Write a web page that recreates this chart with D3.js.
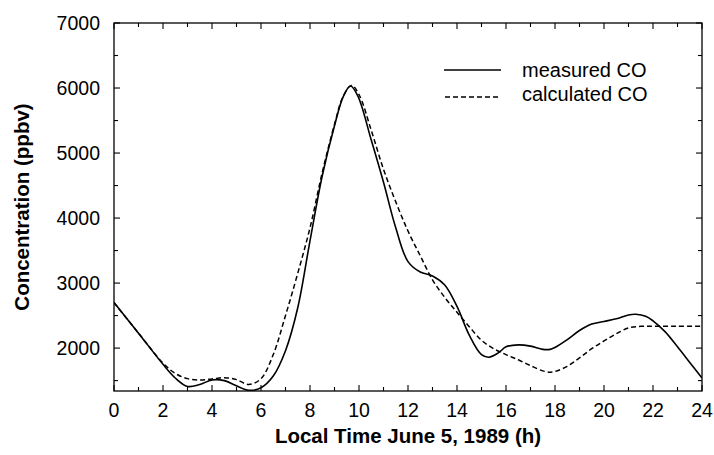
<!DOCTYPE html>
<html><head><meta charset="utf-8">
<script src="https://cdn.jsdelivr.net/npm/d3@7"></script>
<style>
body{margin:0;background:#fff;}
svg text{font-family:"Liberation Sans",Arial,Helvetica,sans-serif;fill:#000;}
</style></head>
<body><svg id="c" width="714" height="455"></svg>
<script>
const hours = [0,1,2,2.5,3,3.5,4,4.5,5,5.5,6,6.5,7,7.5,8,8.5,9,9.35,9.65,9.95,10.5,11,11.5,12,12.5,13,13.5,14,14.5,15,15.3,15.7,16,16.5,17,17.5,17.8,18,18.5,19,19.5,20,20.5,21,21.3,21.7,22,22.5,23,23.5,24];
const measuredCO = [2700,2230,1750,1540,1410,1440,1510,1500,1420,1350,1390,1570,1960,2620,3650,4650,5420,5860,6030,5880,5200,4550,3850,3330,3170,3110,2970,2640,2200,1900,1860,1930,2020,2050,2030,1980,1980,2010,2130,2270,2370,2410,2450,2510,2520,2490,2420,2250,2020,1780,1540];
const calcHours = [0,1,2,2.5,3,3.5,4,4.5,5,5.5,6,6.5,7,7.5,8,8.5,9,9.35,9.7,10,10.5,11,11.5,12,12.5,13,13.5,14,14.5,15,15.5,16,16.5,17,17.5,17.8,18,18.5,19,19.5,20,20.5,21,21.5,22,23,24];
const calculatedCO = [2700,2230,1770,1610,1530,1510,1525,1545,1515,1440,1530,1900,2500,3150,3850,4700,5440,5870,6040,5900,5350,4750,4250,3800,3420,3050,2780,2550,2330,2120,1990,1900,1820,1730,1650,1630,1640,1720,1850,1990,2110,2220,2310,2335,2335,2335,2335];
const xTicks = [0,2,4,6,8,10,12,14,16,18,20,22,24];
const yTicks = [2000,3000,4000,5000,6000,7000];
const legendLabels = ["measured CO","calculated CO"];

const svg = d3.select("#c");
const L=114, R=702, T=23, B=391;
const x = d3.scaleLinear().domain([0,24]).range([L,R]);
const y = d3.scaleLinear().domain([1340,7000]).range([B,T]);

const g = svg.append("g");
g.append("rect").attr("x",L).attr("y",T).attr("width",R-L).attr("height",B-T)
 .attr("fill","none").attr("stroke","#000").attr("stroke-width",1.3);

const minorX = d3.range(0,25,1);
const minorY = d3.range(1500,7001,500);
minorX.forEach(h=>{
  const len = (h%2===0)?6:4;
  g.append("line").attr("x1",x(h)).attr("x2",x(h)).attr("y1",B).attr("y2",B-len).attr("stroke","#000").attr("stroke-width",1.1);
  g.append("line").attr("x1",x(h)).attr("x2",x(h)).attr("y1",T).attr("y2",T+len).attr("stroke","#000").attr("stroke-width",1.1);
});
minorY.forEach(v=>{
  const len = (v%1000===0)?6:4;
  g.append("line").attr("x1",L).attr("x2",L+len).attr("y1",y(v)).attr("y2",y(v)).attr("stroke","#000").attr("stroke-width",1.1);
  g.append("line").attr("x1",R).attr("x2",R-len).attr("y1",y(v)).attr("y2",y(v)).attr("stroke","#000").attr("stroke-width",1.1);
});

g.selectAll(".xl").data(xTicks).enter().append("text")
 .attr("x",d=>x(d)).attr("y",417).attr("text-anchor","middle")
 .style("font-size","19.5px").text(d=>d);
g.selectAll(".yl").data(yTicks).enter().append("text")
 .attr("x",100).attr("y",d=>y(d)+7).attr("text-anchor","end")
 .style("font-size","19.5px").text(d=>d);

svg.append("text").attr("x",(L+R)/2).attr("y",443).attr("text-anchor","middle")
 .style("font-size","20.5px").style("font-weight","bold").text("Local Time June 5, 1989 (h)");
svg.append("text").attr("transform",`translate(28.5,${(T+B)/2}) rotate(-90)`).attr("text-anchor","middle")
 .style("font-size","20.5px").style("font-weight","bold").text("Concentration (ppbv)");

svg.append("clipPath").attr("id","pc").append("rect").attr("x",L).attr("y",T).attr("width",R-L).attr("height",B-T);
const line = d3.line().x(d=>x(d[0])).y(d=>y(d[1])).curve(d3.curveCatmullRom.alpha(0.5));
svg.append("path").datum(hours.map((h,i)=>[h,measuredCO[i]])).attr("d",line)
 .attr("fill","none").attr("stroke","#000").attr("stroke-width",1.6).attr("clip-path","url(#pc)");
svg.append("path").datum(calcHours.map((h,i)=>[h,calculatedCO[i]])).attr("d",line)
 .attr("fill","none").attr("stroke","#000").attr("stroke-width",1.5).attr("stroke-dasharray","5,3").attr("clip-path","url(#pc)");

const lg = svg.append("g");
lg.append("line").attr("x1",444).attr("x2",501).attr("y1",70).attr("y2",70).attr("stroke","#000").attr("stroke-width",1.6);
lg.append("line").attr("x1",445).attr("x2",501).attr("y1",97).attr("y2",97).attr("stroke","#000").attr("stroke-width",1.5).attr("stroke-dasharray","5,3");
lg.selectAll(".lt").data(legendLabels).enter().append("text")
 .attr("x",522).attr("y",(d,i)=>77+i*23.5).style("font-size","20px").text(d=>d);
</script></body></html>
